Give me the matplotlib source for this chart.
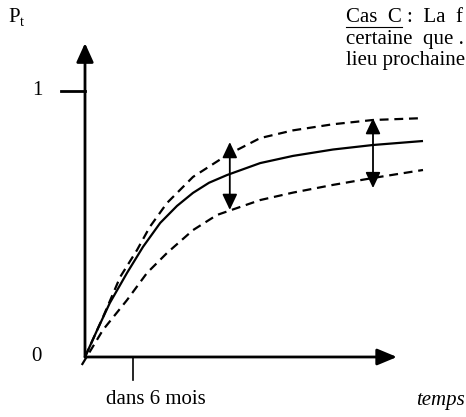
import matplotlib
matplotlib.use("Agg")
import matplotlib.pyplot as plt

plt.rcParams['font.family'] = ['Liberation Serif', 'DejaVu Serif']

# months after today, probability P_t
mid_months = [0, 1.5, 3.1, 5.25, 7.25, 9.4, 11.5, 13.5, 15.5, 17.75, 21.9, 26, 31, 36, 42.25]
p_mid = [0.0, 0.100, 0.203, 0.316, 0.414, 0.504, 0.568, 0.617, 0.655, 0.684, 0.729, 0.756, 0.780, 0.797, 0.812]
hi_months = [0, 2.25, 4.4, 6.5, 8.1, 10.25, 13.5, 17.75, 21.9, 26, 31, 36, 42.25]
p_high = [0.0, 0.150, 0.301, 0.402, 0.489, 0.579, 0.677, 0.759, 0.823, 0.852, 0.875, 0.891, 0.898]
lo_months = [-0.4, 2.25, 5.25, 7.75, 10.25, 13.5, 16.5, 21.9, 26, 31, 36, 42.25]
p_low = [-0.03, 0.102, 0.214, 0.316, 0.391, 0.477, 0.534, 0.590, 0.618, 0.647, 0.673, 0.703]

# spread arrows: (month, low, high)
spread_x = [18.1, 36]
spread_lo = [0.553, 0.635]
spread_hi = [0.808, 0.898]

tick_month = 6
x_end = 39
y_end = 1.18

fig = plt.figure(figsize=(4.66, 4.17), dpi=100)
ax = fig.add_axes([0, 0, 1, 1])
ax.set_xlim(-10.625, 47.625)
ax.set_ylim(-0.2256, 1.3421)
ax.axis('off')

lw = 1.6
ax.plot(mid_months, p_mid, color='k', lw=lw, solid_capstyle='butt', solid_joinstyle='round')
ax.plot(hi_months, p_high, color='k', lw=lw, ls=(0, (4, 2.6)))
ax.plot(lo_months, p_low, color='k', lw=lw, ls=(0, (4, 2.6)))

# axes with arrow heads
ax.annotate('', xy=(0, y_end), xytext=(0, 0),
            arrowprops=dict(arrowstyle='-|>,head_length=1.15,head_width=0.52',
                            color='k', lw=2, shrinkA=0, shrinkB=0, mutation_scale=10))
ax.annotate('', xy=(x_end, 0), xytext=(0, 0),
            arrowprops=dict(arrowstyle='-|>,head_length=1.2,head_width=0.5',
                            color='k', lw=2, shrinkA=0, shrinkB=0, mutation_scale=10))
ax.plot([-3, 0], [1, 1], color='k', lw=2)
ax.plot([tick_month, tick_month], [0, -0.088], color='k', lw=1.2)

for x, lo, hi in zip(spread_x, spread_lo, spread_hi):
    ax.annotate('', xy=(x, hi), xytext=(x, lo),
                arrowprops=dict(arrowstyle='<|-|>,head_length=0.95,head_width=0.45',
                                color='k', lw=1.3, shrinkA=0, shrinkB=0, mutation_scale=10))

fs = 15
ax.text(-5.9, 1, '1', fontsize=fs, ha='center', va='center')
ax.text(-6.1, 0, '0', fontsize=fs, ha='center', va='center')
fig.text(8 / 466, 1 - 17 / 417, 'P', fontsize=fs, ha='left', va='center')
fig.text(20 / 466, 1 - 23 / 417, 't', fontsize=fs * 0.7, ha='left', va='center')
ax.text(tick_month + 2.9, -0.16, 'dans 6 mois', fontsize=fs, ha='center', va='center')
fig.text(416 / 466, 1 - 400 / 417, 'temps', fontsize=fs, style='italic', ha='left', va='center')

lines = ['Cas  C :  La  f', 'certaine  que .', 'lieu prochaine']
for i, s in enumerate(lines):
    t = fig.text(346 / 466, 1 - (18 + 21.5 * i) / 417, s, fontsize=fs, ha='left', va='center')
    if i == 0:
        fig.canvas.draw()
        r = fig.canvas.get_renderer()
        sub = fig.text(0, 0, 'Cas  C', fontsize=fs)
        w = sub.get_window_extent(r).width
        sub.remove()
        bb = t.get_window_extent(r)
        y = bb.y0 + 1
        fig.add_artist(plt.Line2D([bb.x0 / 466, (bb.x0 + w) / 466], [y / 417, y / 417],
                                  color='k', lw=0.8, transform=fig.transFigure))

fig.savefig('out.png', dpi=100)
